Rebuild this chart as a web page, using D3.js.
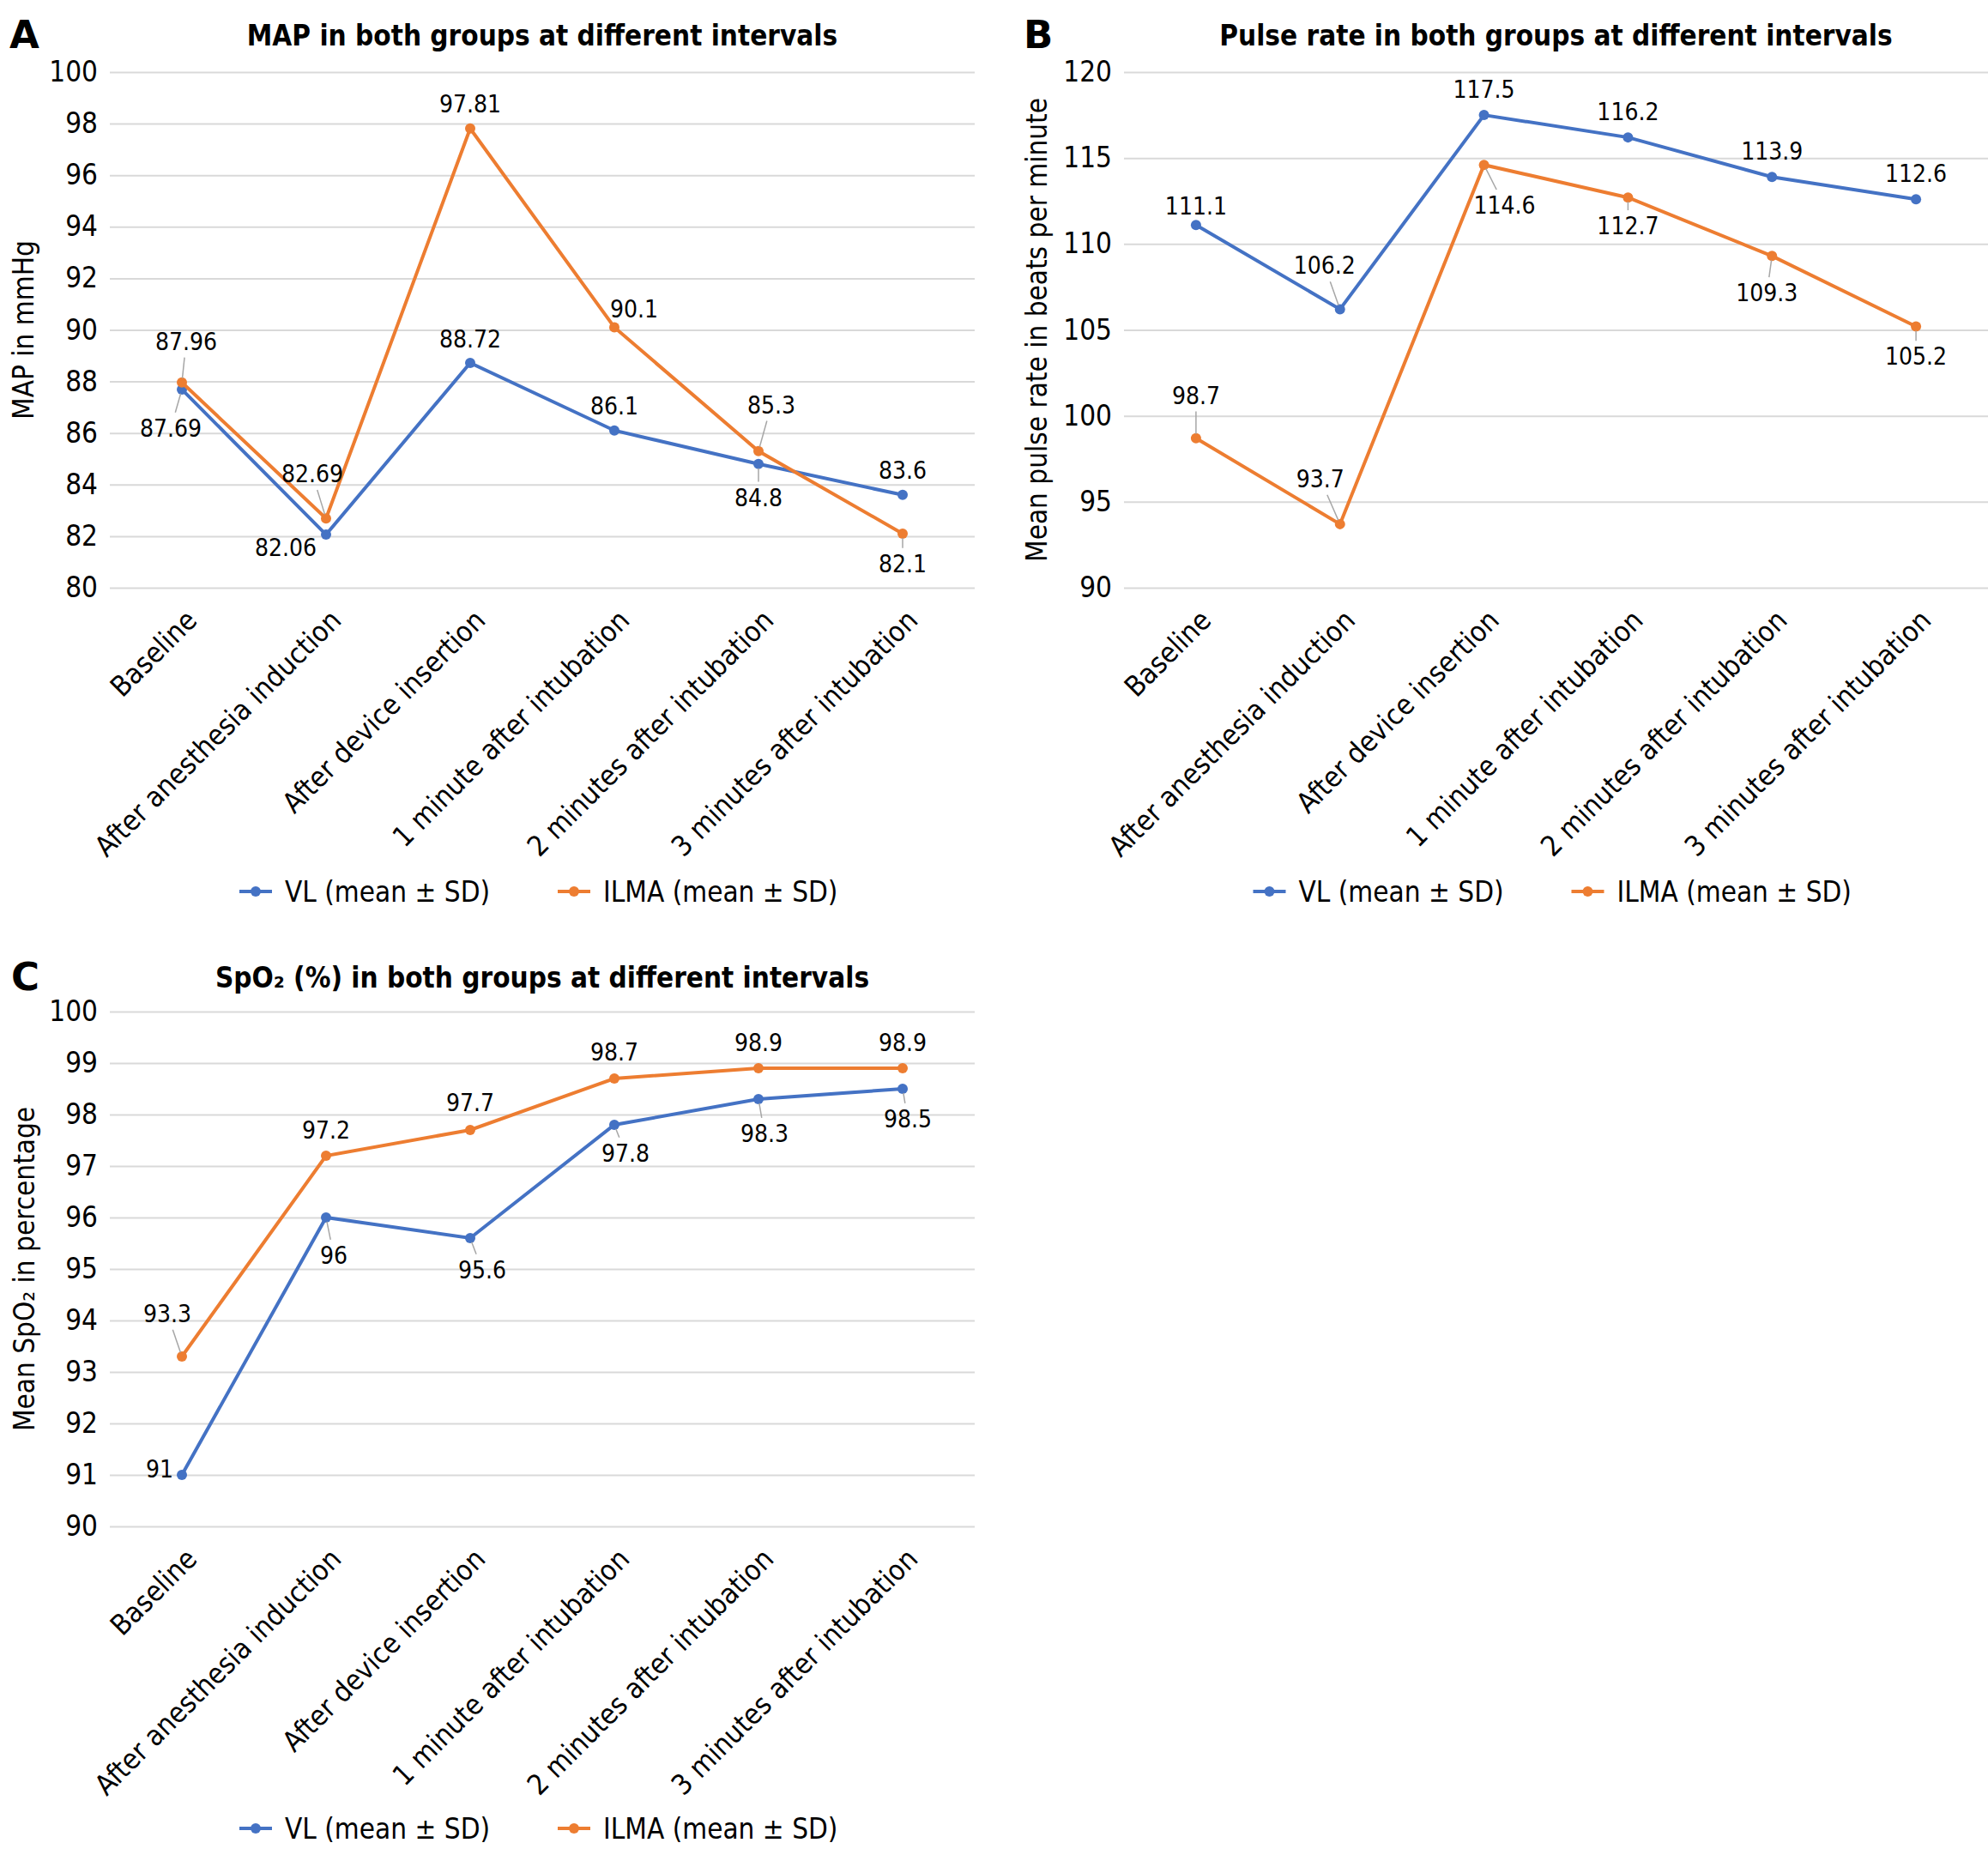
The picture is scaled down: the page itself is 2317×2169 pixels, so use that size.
<!DOCTYPE html>
<html>
<head>
<meta charset="utf-8">
<script src="https://cdn.jsdelivr.net/npm/d3@7"></script>
<style>
  body { margin: 0; background: #fff; }
  text { font-family: "DejaVu Sans Condensed", "DejaVu Sans", sans-serif; font-stretch: condensed; }
</style>
</head>
<body>
<script>
// categories and series values
let categories = ["Baseline", "After anesthesia induction", "After device insertion",
    "1 minute after intubation", "2 minutes after intubation", "3 minutes after intubation"]
let seriesNames = ["VL (mean ± SD)", "ILMA (mean ± SD)"]

let mapVL = [87.69, 82.06, 88.72, 86.1, 84.8, 83.6]
let mapILMA = [87.96, 82.69, 97.81, 90.1, 85.3, 82.1]
let pulseVL = [111.1, 106.2, 117.5, 116.2, 113.9, 112.6]
let pulseILMA = [98.7, 93.7, 114.6, 112.7, 109.3, 105.2]
let spo2VL = [91, 96, 95.6, 97.8, 98.3, 98.5]
let spo2ILMA = [93.3, 97.2, 97.7, 98.7, 98.9, 98.9]

let mapTicks = [80, 82, 84, 86, 88, 90, 92, 94, 96, 98, 100]
let pulseTicks = [90, 95, 100, 105, 110, 115, 120]
let spo2Ticks = [90, 91, 92, 93, 94, 95, 96, 97, 98, 99, 100]

// where each data label sits relative to its point: [dx, dy, leader line]
let nudgeA = {
    vl: [[-13, 45, 1], [-47, 15, 0], [0, -28, 0], [0, -28, 0], [0, 39, 1], [0, -29, 0]],
    ilma: [[5, -48, 1], [-16, -52, 1], [0, -29, 0], [23, -21, 0], [15, -54, 1], [0, 35, 1]]
}
let nudgeB = {
    vl: [[0, -22, 0], [-18, -51, 1], [0, -30, 0], [0, -30, 0], [0, -30, 0], [0, -30, 0]],
    ilma: [[0, -50, 1], [-23, -53, 1], [24, 47, 1], [0, 33, 1], [-6, 43, 1], [0, 35, 1]]
}
let nudgeC = {
    vl: [[-26, -7, 0], [9, 44, 1], [14, 37, 1], [13, 33, 1], [7, 40, 1], [6, 35, 1]],
    ilma: [[-17, -50, 1], [0, -30, 0], [0, -32, 0], [0, -31, 0], [0, -30, 0], [0, -30, 0]]
}

let colors = ["#4472C4", "#ED7D31"]

let svg = d3.select("body").append("svg")
    .attr("width", 2317)
    .attr("height", 2169)

let panels = [
    { letter: "A", letterX: 11, title: "MAP in both groups at different intervals", yTitle: "MAP in mmHg",
      vl: mapVL, ilma: mapILMA, ticks: mapTicks, nudge: nudgeA,
      left: 128, right: 1136, top: 84, bottom: 685, titleY: 53, yTitleX: 39, legendY: 1039 },
    { letter: "B", letterX: 1193, title: "Pulse rate in both groups at different intervals", yTitle: "Mean pulse rate in beats per minute",
      vl: pulseVL, ilma: pulseILMA, ticks: pulseTicks, nudge: nudgeB,
      left: 1310, right: 2317, top: 84, bottom: 685, titleY: 53, yTitleX: 1220, legendY: 1039 },
    { letter: "C", letterX: 13, title: "SpO₂ (%) in both groups at different intervals", yTitle: "Mean SpO₂ in percentage",
      vl: spo2VL, ilma: spo2ILMA, ticks: spo2Ticks, nudge: nudgeC,
      left: 128, right: 1136, top: 1179, bottom: 1779, titleY: 1151, yTitleX: 40, legendY: 2131 }
]

function drawPanel(p) {
    let g = svg.append("g")

    let x = d3.scalePoint()
        .domain(categories)
        .range([p.left, p.right])
        .padding(0.5)

    let y = d3.scaleLinear()
        .domain(d3.extent(p.ticks))
        .range([p.bottom, p.top])

    // gridlines + tick labels
    let yAxisSettings = d3.axisLeft(y)
        .tickValues(p.ticks)
        .tickSize(-(p.right - p.left))
        .tickPadding(14)
        .tickFormat(d3.format("d"))

    let yg = g.append("g")
        .attr("transform", `translate(${p.left},0)`)
        .call(yAxisSettings)
        .attr("font-family", null)
    yg.select(".domain").remove()
    yg.selectAll(".tick line").attr("stroke", "#d9d9d9").attr("stroke-width", 2)
    yg.selectAll(".tick text").attr("font-size", 33).attr("fill", "#000")

    let xg = g.append("g")
        .attr("transform", `translate(0,${p.bottom})`)
        .call(d3.axisBottom(x).tickSize(0).tickPadding(0))
        .attr("font-family", null)
    xg.select(".domain").remove()
    xg.selectAll(".tick text")
        .attr("y", 0)
        .attr("dy", 0)
        .attr("text-anchor", "end")
        .attr("font-size", 33)
        .attr("fill", "#000")
        .attr("transform", "translate(19,40) rotate(-45)")

    let line = d3.line()
        .x((d, i) => x(categories[i]))
        .y(d => y(d))

    let series = [p.vl, p.ilma]
    let nudges = [p.nudge.vl, p.nudge.ilma]

    series.forEach(function(values, s) {
        g.append("path")
            .attr("d", line(values))
            .style("fill", "none")
            .style("stroke", colors[s])
            .style("stroke-width", "4px")

        g.selectAll(".pt" + s)
            .data(values)
            .join("circle")
            .attr("class", "pt" + s)
            .attr("cx", (d, i) => x(categories[i]))
            .attr("cy", d => y(d))
            .attr("r", 6)
            .attr("fill", colors[s])
    })

    // data labels drawn after both lines so they sit on top
    let leaderG = g.append("g")
    let labelG = g.append("g")
    series.forEach(function(values, s) {
        values.forEach(function(v, i) {
            let px = x(categories[i])
            let py = y(v)
            let n = nudges[s][i]
            let t = labelG.append("text")
                .attr("x", px + n[0])
                .attr("y", py + n[1])
                .attr("dy", "0.35em")
                .attr("text-anchor", "middle")
                .attr("font-size", 28)
                .attr("fill", "#000")
                .text(String(v))
            if (n[2]) {
                let b = t.node().getBBox()
                let hw = b.width / 2 + 3
                let hh = b.height / 2 + 2
                let cx = b.x + b.width / 2
                let cy = b.y + b.height / 2
                let dx = cx - px, dy = cy - py
                let dist = Math.sqrt(dx * dx + dy * dy)
                let ux = dx / dist, uy = dy / dist
                let sEdge = Math.min(ux !== 0 ? hw / Math.abs(ux) : 1e9, uy !== 0 ? hh / Math.abs(uy) : 1e9)
                if (dist - sEdge > 8) {
                    leaderG.append("line")
                        .attr("x1", px + ux * 5)
                        .attr("y1", py + uy * 5)
                        .attr("x2", cx - ux * sEdge)
                        .attr("y2", cy - uy * sEdge)
                        .attr("stroke", "#a6a6a6")
                        .attr("stroke-width", 1.5)
                }
            }
        })
    })

    // titles
    let mid = (p.left + p.right) / 2
    g.append("text")
        .attr("x", mid)
        .attr("y", p.titleY)
        .attr("text-anchor", "middle")
        .attr("font-size", 33)
        .attr("font-weight", "bold")
        .text(p.title)

    g.append("text")
        .attr("x", p.letterX)
        .attr("y", p.titleY + 3)
        .attr("font-size", 45)
        .attr("font-weight", "bold")
        .style("font-family", "'DejaVu Sans', sans-serif")
        .style("font-stretch", "normal")
        .text(p.letter)

    g.append("text")
        .attr("transform", `translate(${p.yTitleX},${(p.top + p.bottom) / 2}) rotate(-90)`)
        .attr("text-anchor", "middle")
        .attr("font-size", 33)
        .text(p.yTitle)

    // legend
    let legendX = [mid - 353, mid + 18]
    seriesNames.forEach(function(name, s) {
        let lg = g.append("g").attr("transform", `translate(${legendX[s]},${p.legendY})`)
        lg.append("line")
            .attr("x1", 0).attr("x2", 38)
            .attr("stroke", colors[s])
            .attr("stroke-width", 4)
        lg.append("circle")
            .attr("cx", 19)
            .attr("r", 6)
            .attr("fill", colors[s])
        lg.append("text")
            .attr("x", 53)
            .attr("dy", "0.35em")
            .attr("font-size", 33)
            .text(name)
    })
}

panels.forEach(drawPanel)
</script>
</body>
</html>
